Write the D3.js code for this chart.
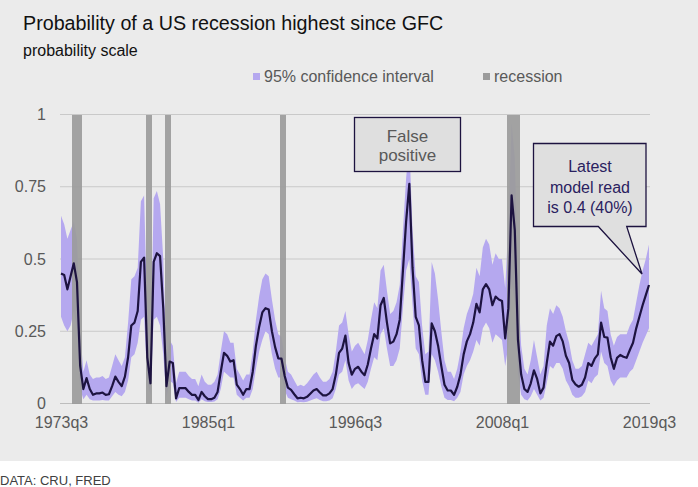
<!DOCTYPE html>
<html>
<head>
<meta charset="utf-8">
<script src="https://cdn.jsdelivr.net/npm/d3@7"></script>
<style>
  html, body { margin: 0; padding: 0; background: #ffffff; }
  text { font-family: "Liberation Sans", Arial, sans-serif; }
</style>
</head>
<body>
<div id="wrapper"></div>
<script>
// quarterly probability of recession, 1973q3 .. 2019q3
const firstQuarter = { year: 1973, q: 3 }
const probability = [
  0.45, 0.445, 0.395, 0.44, 0.485, 0.42, 0.13, 0.05, 0.088, 0.05,
  0.03, 0.035, 0.035, 0.038, 0.03, 0.032, 0.06, 0.093, 0.075, 0.06,
  0.093, 0.16, 0.27, 0.28, 0.32, 0.49, 0.505, 0.16, 0.07, 0.49,
  0.52, 0.51, 0.33, 0.06, 0.145, 0.14, 0.018, 0.053, 0.053, 0.053,
  0.04, 0.03, 0.03, 0.012, 0.04, 0.025, 0.015, 0.015, 0.02, 0.04,
  0.11, 0.175, 0.165, 0.145, 0.15, 0.065, 0.05, 0.03, 0.05, 0.05,
  0.11, 0.2, 0.265, 0.315, 0.33, 0.325, 0.25, 0.195, 0.156, 0.155,
  0.095, 0.055, 0.047, 0.032, 0.018, 0.02, 0.018, 0.023, 0.034, 0.045,
  0.05, 0.038, 0.028, 0.028, 0.035, 0.05, 0.1, 0.175, 0.19, 0.235,
  0.14, 0.1, 0.12, 0.127, 0.11, 0.098, 0.135, 0.19, 0.24, 0.225,
  0.34, 0.365, 0.28, 0.208, 0.214, 0.24, 0.29, 0.46, 0.63, 0.76,
  0.47, 0.3, 0.27, 0.15, 0.075, 0.075, 0.277, 0.25, 0.2, 0.13,
  0.065, 0.045, 0.045, 0.03, 0.058, 0.1, 0.17, 0.215, 0.24, 0.28,
  0.345, 0.315, 0.395, 0.413, 0.395, 0.34, 0.37, 0.36, 0.355, 0.225,
  0.33, 0.72, 0.6, 0.22, 0.1, 0.05, 0.04, 0.07, 0.115, 0.085,
  0.035, 0.055, 0.14, 0.214, 0.2, 0.233, 0.24, 0.215, 0.165, 0.14,
  0.082, 0.066, 0.058, 0.065, 0.09, 0.14, 0.13, 0.155, 0.17, 0.28,
  0.23, 0.228, 0.16, 0.12, 0.158, 0.168, 0.162, 0.158, 0.185, 0.21,
  0.26, 0.3, 0.34, 0.375, 0.41,
]
const upperBound = [
  0.65, 0.62, 0.57, 0.6, 0.63, 0.57, 0.25, 0.11, 0.15, 0.1,
  0.085, 0.09, 0.09, 0.095, 0.085, 0.09, 0.13, 0.17, 0.15, 0.13,
  0.16, 0.28, 0.43, 0.44, 0.47, 0.7, 0.72, 0.3, 0.14, 0.71,
  0.735, 0.69, 0.5, 0.14, 0.22, 0.2, 0.07, 0.11, 0.11, 0.11,
  0.095, 0.085, 0.085, 0.06, 0.1, 0.075, 0.065, 0.065, 0.075, 0.1,
  0.18, 0.25, 0.24, 0.21, 0.21, 0.12, 0.1, 0.08, 0.1, 0.1,
  0.18, 0.29, 0.37, 0.43, 0.45, 0.44, 0.36, 0.29, 0.24, 0.23,
  0.16, 0.11, 0.1, 0.08, 0.06, 0.065, 0.06, 0.07, 0.085, 0.1,
  0.11, 0.09, 0.075, 0.075, 0.085, 0.11, 0.18, 0.27, 0.28, 0.32,
  0.24, 0.18, 0.2, 0.21, 0.19, 0.17, 0.22, 0.29, 0.35, 0.33,
  0.46, 0.48, 0.39, 0.31, 0.32, 0.35, 0.41, 0.6, 0.78, 0.9,
  0.6, 0.44, 0.42, 0.27, 0.17, 0.18, 0.49, 0.45, 0.36, 0.25,
  0.15, 0.11, 0.11, 0.085, 0.12, 0.18, 0.26, 0.31, 0.34, 0.38,
  0.47, 0.44, 0.54, 0.57, 0.55, 0.48, 0.52, 0.5, 0.5, 0.4,
  0.62, 0.97, 0.85, 0.42, 0.2, 0.12, 0.1, 0.15, 0.22, 0.16,
  0.1, 0.13, 0.27, 0.33, 0.31, 0.34, 0.33, 0.3, 0.25, 0.21,
  0.15, 0.12, 0.12, 0.13, 0.17, 0.21, 0.2, 0.22, 0.24, 0.39,
  0.33, 0.32, 0.24, 0.2, 0.23, 0.24, 0.24, 0.24, 0.27, 0.29,
  0.35, 0.41, 0.46, 0.5, 0.55,
]
const lowerBound = [
  0.3, 0.27, 0.25, 0.27, 0.32, 0.26, 0.05, 0.015, 0.03, 0.015,
  0.01, 0.01, 0.01, 0.012, 0.01, 0.01, 0.025, 0.04, 0.03, 0.025,
  0.04, 0.08, 0.16, 0.17, 0.21, 0.29, 0.3, 0.08, 0.03, 0.29,
  0.3, 0.27, 0.17, 0.02, 0.08, 0.07, 0.005, 0.02, 0.02, 0.02,
  0.015, 0.01, 0.01, 0.003, 0.015, 0.008, 0.005, 0.005, 0.007, 0.015,
  0.05, 0.11, 0.1, 0.09, 0.09, 0.03, 0.02, 0.01, 0.02, 0.02,
  0.05, 0.12, 0.18, 0.22, 0.25, 0.24, 0.17, 0.12, 0.09, 0.09,
  0.045, 0.02, 0.015, 0.01, 0.004, 0.005, 0.004, 0.006, 0.01, 0.015,
  0.018, 0.012, 0.008, 0.008, 0.01, 0.018, 0.05, 0.1, 0.11, 0.15,
  0.08, 0.05, 0.065, 0.07, 0.06, 0.05, 0.075, 0.12, 0.16, 0.15,
  0.24, 0.26, 0.19, 0.13, 0.13, 0.15, 0.19, 0.33, 0.46, 0.5,
  0.34, 0.19, 0.17, 0.08, 0.03, 0.03, 0.17, 0.15, 0.11, 0.06,
  0.02, 0.012, 0.012, 0.008, 0.02, 0.04, 0.1, 0.13, 0.15, 0.18,
  0.22, 0.2, 0.26, 0.28, 0.26, 0.21, 0.24, 0.23, 0.22, 0.13,
  0.2, 0.42, 0.35, 0.1, 0.03, 0.015, 0.01, 0.025, 0.05, 0.03,
  0.01, 0.02, 0.07, 0.13, 0.12, 0.14, 0.14, 0.12, 0.08, 0.06,
  0.03, 0.02, 0.02, 0.025, 0.04, 0.08, 0.07, 0.09, 0.1, 0.18,
  0.14, 0.13, 0.08, 0.06, 0.08, 0.09, 0.09, 0.09, 0.11, 0.12,
  0.15, 0.18, 0.21, 0.235, 0.26,
]
const recessionQuarters = [
  "1974q3", "1974q4", "1975q1",
  "1980q2", "1980q3",
  "1981q4", "1982q1",
  "1990q4", "1991q1",
  "2008q3", "2008q4", "2009q1", "2009q2",
]
const xTickLabels = ["1973q3", "1985q1", "1996q3", "2008q1", "2019q3"]
const yTickValues = [0, 0.25, 0.5, 0.75, 1]
const falsePositiveText = ["False", "positive"]
const latestText = ["Latest", "model read", "is 0.4 (40%)"]

function drawChart() {
  let dimensions = {
    width: 698,
    height: 487,
    panelHeight: 461,
    margin: { top: 114.5, right: 49, bottom: 83.5, left: 61 },
  }
  dimensions.boundedWidth = dimensions.width - dimensions.margin.left - dimensions.margin.right
  dimensions.boundedHeight = dimensions.height - dimensions.margin.top - dimensions.margin.bottom

  // quarter labels for every point
  const quarters = probability.map((d, i) => {
    const n = firstQuarter.q - 1 + i
    return `${firstQuarter.year + Math.floor(n / 4)}q${(n % 4) + 1}`
  })
  const dataset = probability.map((d, i) => ({
    quarter: quarters[i], index: i, value: d, low: lowerBound[i], high: upperBound[i],
  }))

  const wrapper = d3.select("#wrapper")
    .append("svg")
      .attr("width", dimensions.width)
      .attr("height", dimensions.height)

  wrapper.append("rect")
      .attr("width", dimensions.width)
      .attr("height", dimensions.panelHeight)
      .attr("fill", "#ebebeb")

  // titles
  wrapper.append("text")
      .attr("x", 23).attr("y", 29.5)
      .style("font-size", "19.7px").attr("fill", "#111")
      .text("Probability of a US recession highest since GFC")
  wrapper.append("text")
      .attr("x", 23).attr("y", 56)
      .style("font-size", "16px").attr("fill", "#111")
      .text("probability scale")

  // legend
  const legendItems = [
    { label: "95% confidence interval", color: "#b5a8ef", x: 253 },
    { label: "recession", color: "#9b9b9b", x: 483 },
  ]
  const legend = wrapper.append("g").selectAll("g")
    .data(legendItems).join("g")
      .attr("transform", d => `translate(${d.x}, 73)`)
  legend.append("rect")
      .attr("width", 7).attr("height", 7)
      .attr("fill", d => d.color)
  legend.append("text")
      .attr("x", 11).attr("y", 9)
      .style("font-size", "16px").attr("fill", "#595959")
      .text(d => d.label)

  // scales
  const xScale = d3.scaleLinear()
    .domain([0, dataset.length - 1])
    .range([dimensions.margin.left, dimensions.width - dimensions.margin.right])
  const yScale = d3.scaleLinear()
    .domain([0, 1])
    .range([dimensions.margin.top + dimensions.boundedHeight, dimensions.margin.top])

  // gridlines
  wrapper.append("g")
    .selectAll("line")
    .data(yTickValues).join("line")
      .attr("x1", xScale.range()[0] - 1)
      .attr("x2", xScale.range()[1] + 1)
      .attr("y1", d => yScale(d))
      .attr("y2", d => yScale(d))
      .attr("stroke", d => d === 0 ? "#bdbdbd" : "#c9c9c9")
      .attr("stroke-width", 1.2)

  // y axis labels
  const yAxis = d3.axisLeft(yScale)
    .tickValues(yTickValues)
    .tickFormat(d3.format("~g"))
    .tickSize(0)
    .tickPadding(0)
  wrapper.append("g")
      .attr("transform", "translate(46, 0)")
      .call(yAxis)
      .call(g => g.select(".domain").remove())
      .selectAll("text")
        .style("font-family", "'Liberation Sans', Arial, sans-serif")
        .style("font-size", "16px")
        .attr("fill", "#595959")

  // x axis labels
  const tickIndexes = xTickLabels.map(q => quarters.indexOf(q))
  const xAxis = d3.axisBottom(xScale)
    .tickValues(tickIndexes)
    .tickFormat(i => quarters[i])
    .tickSize(0)
    .tickPadding(0)
  wrapper.append("g")
      .attr("transform", `translate(0, ${yScale(0) + 13})`)
      .call(xAxis)
      .call(g => g.select(".domain").remove())
      .selectAll("text")
        .style("font-family", "'Liberation Sans', Arial, sans-serif")
        .style("font-size", "16px")
        .attr("fill", "#595959")

  // confidence band
  const bandGenerator = d3.area()
    .x(d => xScale(d.index))
    .y0(d => yScale(d.low))
    .y1(d => yScale(d.high))
  wrapper.append("path")
      .attr("d", bandGenerator(dataset))
      .attr("fill", "#b5a8ef")

  // recession bars
  const step = xScale(1) - xScale(0)
  wrapper.append("g")
    .selectAll("rect")
    .data(recessionQuarters).join("rect")
      .attr("x", d => xScale(quarters.indexOf(d)) - step / 2)
      .attr("width", step)
      .attr("y", yScale(1))
      .attr("height", yScale(0) - yScale(1))
      .attr("fill", "#9b9b9b")
      .attr("shape-rendering", "crispEdges")
      .attr("opacity", 0.92)

  // probability line
  const lineGenerator = d3.line()
    .x(d => xScale(d.index))
    .y(d => yScale(d.value))
  wrapper.append("path")
      .attr("d", lineGenerator(dataset))
      .attr("fill", "none")
      .attr("stroke", "#1d1340")
      .attr("stroke-width", 2.2)
      .attr("stroke-linejoin", "round")

  // "False positive" box
  const fp = wrapper.append("g")
  fp.append("rect")
      .attr("x", 354.5).attr("y", 117.5)
      .attr("width", 106).attr("height", 54)
      .attr("fill", "#dfdfdf")
      .attr("stroke", "#1d1340")
      .attr("stroke-width", 1.3)
  fp.selectAll("text")
    .data(falsePositiveText).join("text")
      .attr("x", 407.5)
      .attr("y", (d, i) => 141.5 + i * 19.5)
      .attr("text-anchor", "middle")
      .style("font-size", "17px")
      .attr("fill", "#595959")
      .text(d => d)

  // callout for the latest reading
  const last = dataset[dataset.length - 1]
  const tipX = xScale(last.index) - 7
  const tipY = yScale(last.value) - 11
  const box = { x0: 533.5, y0: 143.5, x1: 646, y1: 226.5 }
  const callout = wrapper.append("g")
  callout.append("path")
      .attr("d", `M${box.x0},${box.y0} H${box.x1} V${box.y1} H626.7 L${tipX},${tipY} L598.3,${box.y1} H${box.x0} Z`)
      .attr("fill", "#dfdfdf")
      .attr("stroke", "#1d1340")
      .attr("stroke-width", 1.3)
  callout.selectAll("text")
    .data(latestText).join("text")
      .attr("x", 590)
      .attr("y", (d, i) => 172 + i * 20.5)
      .attr("text-anchor", "middle")
      .style("font-size", "16px")
      .attr("fill", "#2a2160")
      .text(d => d)

  // source
  wrapper.append("text")
      .attr("x", 0).attr("y", 485)
      .style("font-size", "13px")
      .attr("fill", "#404040")
      .text("DATA: CRU, FRED")
}
drawChart()
</script>
</body>
</html>
